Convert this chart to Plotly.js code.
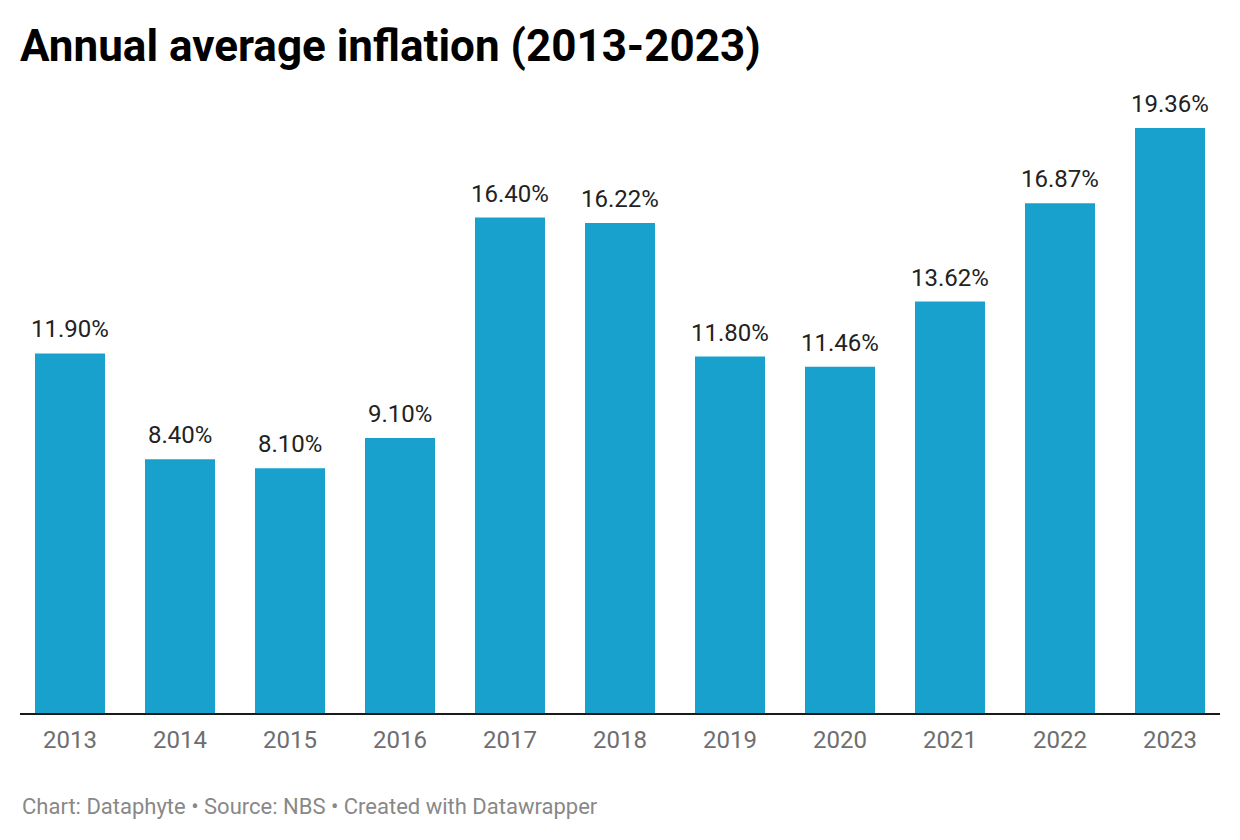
<!DOCTYPE html>
<html>
<head>
<meta charset="utf-8">
<script src="https://cdn.plot.ly/plotly-3.0.1.min.js"></script>
<style>html,body{margin:0;padding:0;background:#fff;}#chart{width:1240px;height:840px;}</style>
</head>
<body>
<div id="chart"></div>
<script>
const years = ["2013","2014","2015","2016","2017","2018","2019","2020","2021","2022","2023"];
const inflation = [11.90, 8.40, 8.10, 9.10, 16.40, 16.22, 11.80, 11.46, 13.62, 16.87, 19.36];
const valueLabels = inflation.map(v => v.toFixed(2) + "%");

const trace = {
  type: "bar",
  x: years,
  y: inflation,
  marker: {color: "#18a1cd"},
  hoverinfo: "none"
};

const labelAnnotations = years.map((yr, i) => ({
  x: i, y: inflation[i], xref: "x", yref: "y",
  text: valueLabels[i], showarrow: false,
  yanchor: "bottom", yshift: 8,
  font: {family: "Roboto", size: 24, color: "#222222"}
}));

labelAnnotations.push({
  xref: "paper", yref: "paper", x: 0, y: 0, xanchor: "left", yanchor: "middle",
  yshift: -93, showarrow: false,
  text: "Chart: Dataphyte • Source: NBS • Created with Datawrapper",
  font: {family: "Roboto", size: 22, color: "#888888"}
});

const layout = {
  width: 1240, height: 840,
  margin: {l: 20, r: 20, t: 100, b: 127},
  paper_bgcolor: "#ffffff", plot_bgcolor: "#ffffff",
  title: {
    text: "<b>Annual average inflation (2013-2023)</b>",
    xref: "container", yref: "container",
    x: 20/1240, xanchor: "left",
    y: 1 - 46/840, yanchor: "middle",
    font: {family: "Roboto", size: 44, color: "#000000"}
  },
  bargap: 0.3636,
  showlegend: false,
  xaxis: {
    type: "category",
    range: [-0.4545, 10.4545],
    showline: true, linecolor: "#1a1a1a", linewidth: 2,
    ticks: "", showgrid: false, zeroline: false,
    tickfont: {family: "Roboto", size: 24, color: "#6e6e6e"},
    ticklabelstandoff: 4,
    fixedrange: true
  },
  yaxis: {
    range: [0, 20.29],
    visible: false, showgrid: false, zeroline: false,
    fixedrange: true
  },
  annotations: labelAnnotations
};

Plotly.newPlot("chart", [trace], layout, {displayModeBar: false, staticPlot: true});
</script>
</body>
</html>
